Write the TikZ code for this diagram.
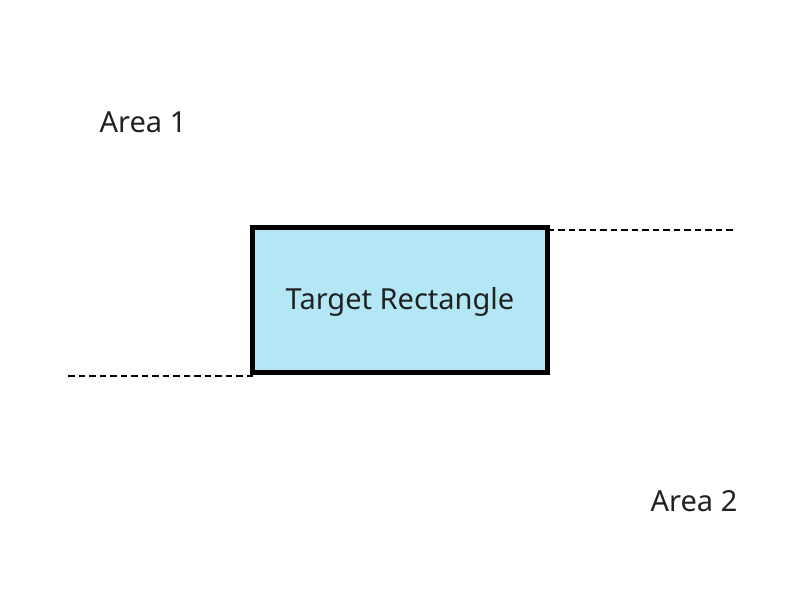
\documentclass[tikz,border=0pt]{standalone}
\usepackage{fontspec}
\setmainfont{Noto Sans}
\definecolor{boxfill}{RGB}{179,231,246}
\definecolor{textgray}{RGB}{33,33,33}

\begin{document}
\begin{tikzpicture}[x=1pt,y=-1pt]
\tikzstyle{target}=[draw, line width=5pt, fill=boxfill, outer sep=0pt, minimum width=295pt, minimum height=145pt, inner sep=0pt, text=textgray, font=\fontsize{29}{34}\selectfont]
\tikzstyle{area}=[text=textgray, font=\fontsize{29}{34}\selectfont]
\tikzstyle{guide}=[line width=2pt, dash pattern=on 6.5pt off 4pt]

\useasboundingbox (0,0) rectangle (800,600);

\draw (400,300) node[target] (rect) {};
\draw (rect.center) ++(0,2) node[text=textgray, font=\fontsize{29}{34}\selectfont] (label) {Target Rectangle};
\draw (143,122) node[area] (area1) {Area 1};
\draw (694,501) node[area] (area2) {Area 2};

\coordinate (topend) at (735,230);
\coordinate (botend) at (68,375.5);

\draw[guide] (rect.east |- topend) -- (topend);
\draw[guide] (botend) -- (rect.west |- botend);
\end{tikzpicture}
\end{document}
